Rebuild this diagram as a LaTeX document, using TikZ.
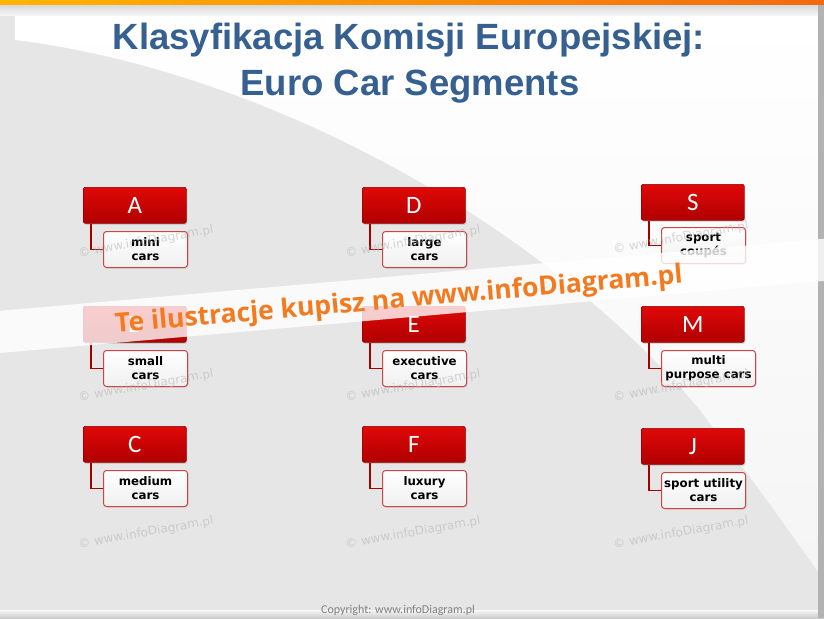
\documentclass[tikz,border=0pt]{standalone}
\usepackage{fontspec}
\setmainfont{Liberation Sans}
\newfontfamily\lettfont{Carlito}
\newfontfamily\boxfont{DejaVu Sans}
\newfontfamily\bannerfont{Open Sans}
\usetikzlibrary{shadows}

\definecolor{titleblue}{HTML}{35608F}
\definecolor{hdrtop}{HTML}{E00808}
\definecolor{hdrbot}{HTML}{B00000}
\definecolor{subline}{HTML}{CC4444}
\definecolor{linkred}{HTML}{A30000}
\definecolor{wmgrey}{HTML}{B4B4B4}
\definecolor{bannerorange}{HTML}{F47A1F}
\definecolor{bggrey}{HTML}{E6E6E6}

\begin{document}
\begin{tikzpicture}
  [x=1pt,y=-1pt,
   hdr/.style={anchor=north west,minimum width=103pt,minimum height=36pt,inner sep=0pt,
     rounded corners=2pt,draw=hdrbot!80!black,line width=.6pt,top color=hdrtop,bottom color=hdrbot,
     text=white,font=\lettfont\fontsize{25}{25}\selectfont,
     drop shadow={opacity=.25,shadow xshift=1pt,shadow yshift=-1.5pt}},
   sub/.style={anchor=north west,minimum width=84pt,minimum height=36pt,inner sep=0pt,
     rounded corners=3pt,draw=subline,line width=1pt,top color=white,bottom color=gray!12,
     align=center,font=\boxfont\bfseries\fontsize{11.8}{14}\selectfont,
     drop shadow={opacity=.2,shadow xshift=1pt,shadow yshift=-1pt}},
   link/.style={draw=linkred,line width=1.6pt},
   wm/.style={rotate=10,text=wmgrey,opacity=.55,font=\boxfont\fontsize{12}{12}\selectfont}]
  \useasboundingbox (0,0) rectangle (824,618);
  % background
  \fill[bggrey] (0,0) rectangle (824,618);
  \shade[top color=white,bottom color=white!96!black]
    (15,40) .. controls (260,70) and (540,220) .. (700,410) .. controls (760,490) .. (824,580)
    -- (824,15) -- (15,15) -- cycle;
  \shade[top color=white!97!black,bottom color=white!80!black] (0,610) rectangle (824,618);
  \shade[top color=white!85!black,bottom color=white!97!black] (0,5) rectangle (824,16);
  \shade[left color={rgb,255:red,255;green,180;blue,0},right color={rgb,255:red,242;green,106;blue,16}]
    (0,0) rectangle (824,5);
  \fill[white!70!black] (818,5) rectangle (824,618);

  % title
  \node[anchor=base,text=titleblue,font=\bfseries\fontsize{36.5}{36.5}\selectfont] (t1) at (409,50)
    {Klasyfikacja Komisji Europejskiej:};
  \node[anchor=base,text=titleblue,font=\bfseries\fontsize{36.5}{36.5}\selectfont] (t2) at (410,95)
    {Euro Car Segments};

  % segments
  \node[hdr] (hA) at (83,187) {A};
  \node[hdr] (hB) at (83,306) {B};
  \node[hdr] (hC) at (83,426) {C};
  \node[hdr] (hD) at (362,187) {D};
  \node[hdr] (hE) at (362,306) {E};
  \node[hdr] (hF) at (362,426) {F};
  \node[hdr] (hS) at (641,184) {S};
  \node[hdr] (hM) at (641,306) {M};
  \node[hdr] (hJ) at (641,428) {J};

  \node[sub] (sA) at (103,231) {mini\\cars};
  \node[sub] (sB) at (103,350) {small\\cars};
  \node[sub] (sC) at (103,470) {medium\\cars};
  \node[sub] (sD) at (382,231) {large\\cars};
  \node[sub] (sE) at (382,350) {executive\\cars};
  \node[sub] (sF) at (382,470) {luxury\\cars};
  \node[sub] (sS) at (661,227) {sport\\coupés};
  \node[sub,minimum width=94pt] (sM) at (661,350) {multi\\purpose cars};
  \node[sub] (sJ) at (661,472) {sport utility\\cars};

    \foreach \from/\to in {hA/sA,hB/sB,hC/sC,hD/sD,hE/sE,hF/sF,hS/sS,hM/sM,hJ/sJ}
    \draw[link] ([xshift=8pt]\from.south west) |- (\to.west);

  % watermarks
    \foreach \x/\y [count=\i] in {146/242,413/242,681/238,146/386,413/386,681/386,146/533,413/533,681/533}
    \node[wm] (w\i) at (\x,\y) {© www.infoDiagram.pl};

  % banner
  \fill[white,opacity=.8,rotate around={5:(399,297)}] (-60,276) rectangle (880,318);
  \node[rotate=5,text=bannerorange,font=\bannerfont\bfseries\fontsize{26.5}{26.5}\selectfont] (bn) at (399,301)
    {Te ilustracje kupisz na www.infoDiagram.pl};

  \node[text=gray,font=\lettfont\fontsize{12}{12}\selectfont] (cr) at (398,610)
    {Copyright: www.infoDiagram.pl};
\end{tikzpicture}
\end{document}
